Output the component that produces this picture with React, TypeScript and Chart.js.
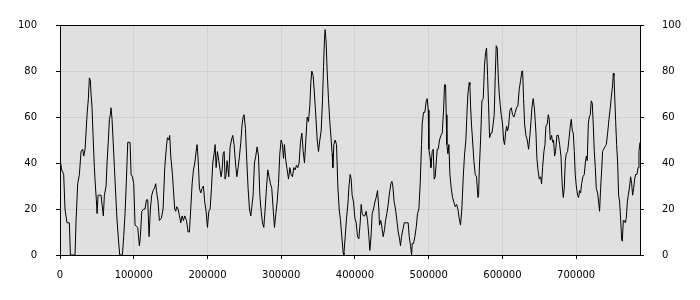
import { useEffect, useRef } from 'react';
import { Chart, registerables } from 'chart.js';

Chart.register(...registerables);

const xValues: number[] = [
  0, 2300, 5000, 6800, 9500, 12700, 14100, 17200, 20400, 21800, 24000, 26300, 28500, 30800, 32200, 34000, 36700, 38500, 39800, 41200,
  42100, 43500, 44800, 46600, 48000, 49300, 50300, 51600, 53400, 55700, 57000, 58800, 60200, 62500, 63800, 65600, 67000, 68300, 69200, 70600,
  72000, 73800, 75600, 77400, 79200, 81000, 84600, 86400, 88200, 90100, 91900, 95000, 96400, 98200, 100000, 101800, 105400, 107700, 109000, 110900,
  113600, 115400, 117200, 119000, 120800, 122600, 124400, 126200, 128000, 129800, 130800, 133000, 134800, 137500, 139800, 142100, 144300, 145700, 147500, 148800,
  150200, 152500, 154300, 155600, 157000, 158300, 160200, 162000, 163800, 165600, 167400, 169200, 171500, 173700, 175500, 177300, 179200, 181000, 182800, 184600,
  185900, 187300, 189100, 190900, 192700, 194500, 196300, 198100, 200000, 201800, 203600, 205400, 207200, 209000, 210400, 211700, 213500, 215300, 217100, 218500,
  219900, 221200, 222600, 223900, 225300, 226600, 228900, 230700, 232500, 234300, 236100, 238000, 239800, 241600, 243400, 245200, 247000, 248400, 249700, 251500,
  253300, 255100, 256900, 258800, 261900, 263700, 265500, 267300, 269200, 271000, 272800, 274600, 276400, 278200, 280000, 281800, 283600, 285400, 287200, 289100,
  290900, 292700, 294500, 296300, 298100, 299900, 301700, 303100, 304400, 306200, 308100, 309900, 311700, 313500, 315300, 317100, 318900, 320700, 322500, 324300,
  326100, 328000, 329800, 331600, 333400, 335200, 337000, 338800, 340200, 341500, 343300, 345100, 347000, 348800, 350600, 352400, 354200, 356000, 357400, 358700,
  359600, 361000, 362300, 364100, 365900, 367800, 369100, 370000, 371400, 373200, 375000, 376800, 378600, 380400, 382200, 384000, 384900, 386800, 388600, 390400,
  391700, 393500, 394900, 396200, 398100, 399900, 401700, 403500, 405300, 407100, 408500, 409800, 411600, 413400, 415200, 417100, 418900, 420200, 421600, 423400,
  425200, 427000, 428800, 430600, 432400, 433300, 435100, 437000, 438300, 440100, 441500, 443300, 445100, 446900, 448700, 450100, 451400, 453200, 455000, 456900,
  458700, 460500, 461800, 463200, 465000, 466800, 469500, 472200, 473600, 475400, 476800, 477700, 479500, 481300, 483100, 484900, 486700, 488500, 490300, 491200,
  493000, 494800, 496700, 498000, 499400, 500300, 502100, 503000, 504800, 506200, 507500, 508900, 510200, 511600, 512900, 514700, 516600, 518400, 520200, 521500,
  522900, 523800, 524700, 526100, 527400, 528800, 530600, 532400, 534200, 536000, 537800, 539600, 541400, 543200, 545000, 546900, 548700, 550500, 551800, 553200,
  555000, 555900, 556800, 558200, 559500, 561300, 563100, 564900, 566800, 567700, 568600, 570400, 572200, 574000, 575800, 577200, 578500, 579900, 581200, 582600,
  584400, 585800, 587100, 588900, 590300, 591600, 593000, 594300, 595700, 597100, 598400, 600200, 601600, 602900, 604300, 605700, 607000, 608400, 610200, 612000,
  613800, 615600, 617400, 619200, 621000, 622800, 624700, 626500, 627400, 628700, 630100, 631900, 633700, 635500, 637300, 638700, 640000, 641800, 643600, 645500,
  646800, 648200, 650000, 651800, 653100, 654500, 656300, 657700, 659000, 660800, 662200, 663500, 664900, 666700, 668100, 669400, 670800, 672100, 673900, 675800,
  677600, 679400, 681200, 682500, 683900, 685300, 686600, 688400, 690200, 692000, 693400, 694800, 696100, 697500, 698800, 700200, 702000, 703300, 704700, 706100,
  707400, 709200, 711000, 712400, 713800, 715100, 716500, 717800, 719200, 720500, 721900, 723300, 724600, 726000, 727300, 729100, 730500, 731800, 733200, 734600,
  735900, 737300, 739100, 740900, 742700, 744500, 746300, 748100, 749500, 750400, 751300, 752200, 753600, 754900, 756300, 757600, 759000, 760300, 761700, 762600,
  764000, 765300, 766700, 768000, 769400, 770700, 772600, 773900, 775300, 776600, 778000, 779300, 780700, 782500, 783900, 785200, 786600,
];

const yValues: number[] = [
  42, 37, 35, 20, 14, 14, 0, 0, 0, 15, 31, 35, 45, 46, 43, 46, 61, 68, 77, 76,
  70, 64, 52, 38, 30, 24, 18, 26, 26, 26, 22, 17, 26, 30, 40, 50, 59, 61, 64, 59,
  50, 38, 26, 15, 7, 0, 0, 8, 18, 33, 49, 49, 35, 34, 31, 13, 12, 4, 8, 19,
  20, 20, 24, 24, 8, 20, 26, 28, 29, 31, 28, 23, 15, 16, 20, 38, 47, 51, 50, 52,
  43, 35, 26, 20, 19, 21, 20, 17, 14, 17, 15, 17, 15, 10, 10, 20, 31, 37, 40, 45,
  48, 42, 29, 27, 29, 30, 23, 19, 12, 19, 20, 29, 40, 44, 48, 38, 45, 41, 37, 34,
  37, 44, 45, 33, 35, 41, 34, 47, 50, 52, 48, 40, 34, 38, 43, 49, 57, 60, 61, 55,
  41, 29, 20, 17, 26, 40, 43, 47, 43, 26, 19, 14, 12, 20, 29, 37, 34, 31, 29, 20,
  12, 18, 23, 31, 44, 50, 48, 42, 48, 41, 37, 33, 38, 35, 34, 38, 37, 39, 38, 40,
  49, 53, 45, 40, 50, 60, 58, 65, 75, 80, 78, 70, 60, 50, 45, 50, 54, 67, 82, 94,
  98, 92, 80, 68, 58, 50, 44, 38, 48, 50, 48, 30, 20, 15, 8, 1, 0, 8, 16, 22,
  29, 35, 33, 26, 23, 16, 14, 8, 7, 14, 22, 18, 17, 17, 19, 15, 8, 2, 7, 18,
  20, 23, 25, 28, 20, 13, 15, 11, 8, 11, 15, 18, 22, 27, 31, 32, 30, 23, 20, 15,
  10, 7, 4, 8, 11, 14, 14, 14, 8, 4, 0, 5, 5, 8, 12, 18, 20, 31, 48, 57,
  62, 62, 67, 68, 63, 46, 42, 38, 45, 46, 33, 34, 40, 46, 46, 50, 52, 53, 63, 74,
  74, 61, 48, 44, 48, 35, 29, 25, 23, 21, 22, 20, 16, 13, 20, 34, 44, 50, 61, 70,
  75, 74, 65, 56, 50, 41, 35, 34, 25, 26, 37, 50, 67, 68, 83, 88, 90, 78, 65, 51,
  53, 53, 56, 61, 78, 91, 90, 78, 70, 65, 61, 57, 50, 48, 53, 56, 54, 56, 63, 64,
  61, 60, 62, 64, 65, 72, 76, 80, 80, 68, 57, 52, 50, 46, 52, 58, 64, 68, 63, 53,
  42, 37, 33, 34, 31, 38, 45, 48, 56, 57, 61, 59, 50, 52, 49, 50, 43, 45, 52, 52,
  48, 43, 30, 25, 29, 41, 44, 45, 50, 56, 59, 54, 53, 45, 35, 30, 26, 25, 28, 27,
  31, 34, 35, 40, 43, 41, 57, 60, 61, 67, 66, 56, 45, 38, 29, 27, 23, 19, 29, 37,
  45, 46, 47, 48, 53, 59, 64, 70, 74, 79, 78, 70, 58, 48, 40, 26, 23, 16, 7, 6,
  15, 15, 14, 16, 23, 26, 30, 34, 31, 26, 29, 33, 35, 35, 38, 45, 49,
];

const xTickValues: number[] = [0, 100000, 200000, 300000, 400000, 500000, 600000, 700000];
const yTickValues: number[] = [0, 20, 40, 60, 80, 100];
const xMax = 786600;

export default function App() {
  const ref = useRef<HTMLCanvasElement>(null);

  useEffect(() => {
    if (!ref.current) return;
    const framePlugin = {
      id: 'plotFrame',
      beforeDraw(chart: any) {
        const { ctx, chartArea } = chart;
        const { left, top, right, bottom } = chartArea;
        ctx.save();
        ctx.fillStyle = '#e0e0e0';
        ctx.fillRect(left, top, right - left, bottom - top);
        ctx.restore();
      },
      afterDraw(chart: any) {
        const { ctx, chartArea } = chart;
        const { left, top, right, bottom } = chartArea;
        ctx.save();
        ctx.strokeStyle = '#000';
        ctx.lineWidth = 1;
        ctx.strokeRect(left + 0.5, top + 0.5, right - left, bottom - top);
        ctx.restore();
      },
    };

    const font = { family: 'DejaVu Sans', size: 10 };
    const yTicksFn = (s: any) => {
      s.ticks = yTickValues.map((v) => ({ value: v }));
    };

    const chart = new Chart(ref.current, {
      type: 'line',
      data: {
        datasets: [
          {
            data: xValues.map((x, i) => ({ x, y: yValues[i] })),
            borderColor: '#000',
            borderWidth: 1,
            pointRadius: 0,
            tension: 0,
            fill: false,
            yAxisID: 'y',
          },
        ],
      },
      options: {
        animation: false,
        responsive: false,
        layout: { padding: { top: 10, left: 0, right: 0, bottom: 0 } },
        plugins: { legend: { display: false }, tooltip: { enabled: false } },
        scales: {
          x: {
            type: 'linear',
            min: 0,
            max: xMax,
            afterBuildTicks: (s: any) => {
              s.ticks = xTickValues.map((v) => ({ value: v }));
            },
            afterFit: (s: any) => {
              s.height = 45;
            },
            ticks: {
              color: '#000',
              font,
              padding: 10,
              maxRotation: 0,
              autoSkip: false,
              callback: (v: any) => String(v),
            },
            grid: { color: '#d0d0d0', tickColor: '#000', tickLength: 4, lineWidth: 1 },
            border: { display: false },
          },
          y: {
            position: 'left',
            min: 0,
            max: 100,
            afterBuildTicks: yTicksFn,
            afterFit: (s: any) => {
              s.width = 60;
            },
            ticks: { color: '#000', font, padding: 19, callback: (v: any) => String(v) },
            grid: { color: '#d0d0d0', tickColor: '#000', tickLength: 4, lineWidth: 1 },
            border: { display: false },
          },
          y2: {
            position: 'right',
            min: 0,
            max: 100,
            afterBuildTicks: yTicksFn,
            afterFit: (s: any) => {
              s.width = 60;
            },
            ticks: { color: '#000', font, padding: 18, callback: (v: any) => String(v) },
            grid: { drawOnChartArea: false, tickColor: '#000', tickLength: 4 },
            border: { display: false },
          },
        },
      },
      plugins: [framePlugin],
    });
    return () => chart.destroy();
  }, []);

  return (
    <div style={{ position: 'absolute', left: 0, top: 0, width: 700, height: 300 }}>
      <canvas ref={ref} width={700} height={300} style={{ display: 'block' }} />
    </div>
  );
}
